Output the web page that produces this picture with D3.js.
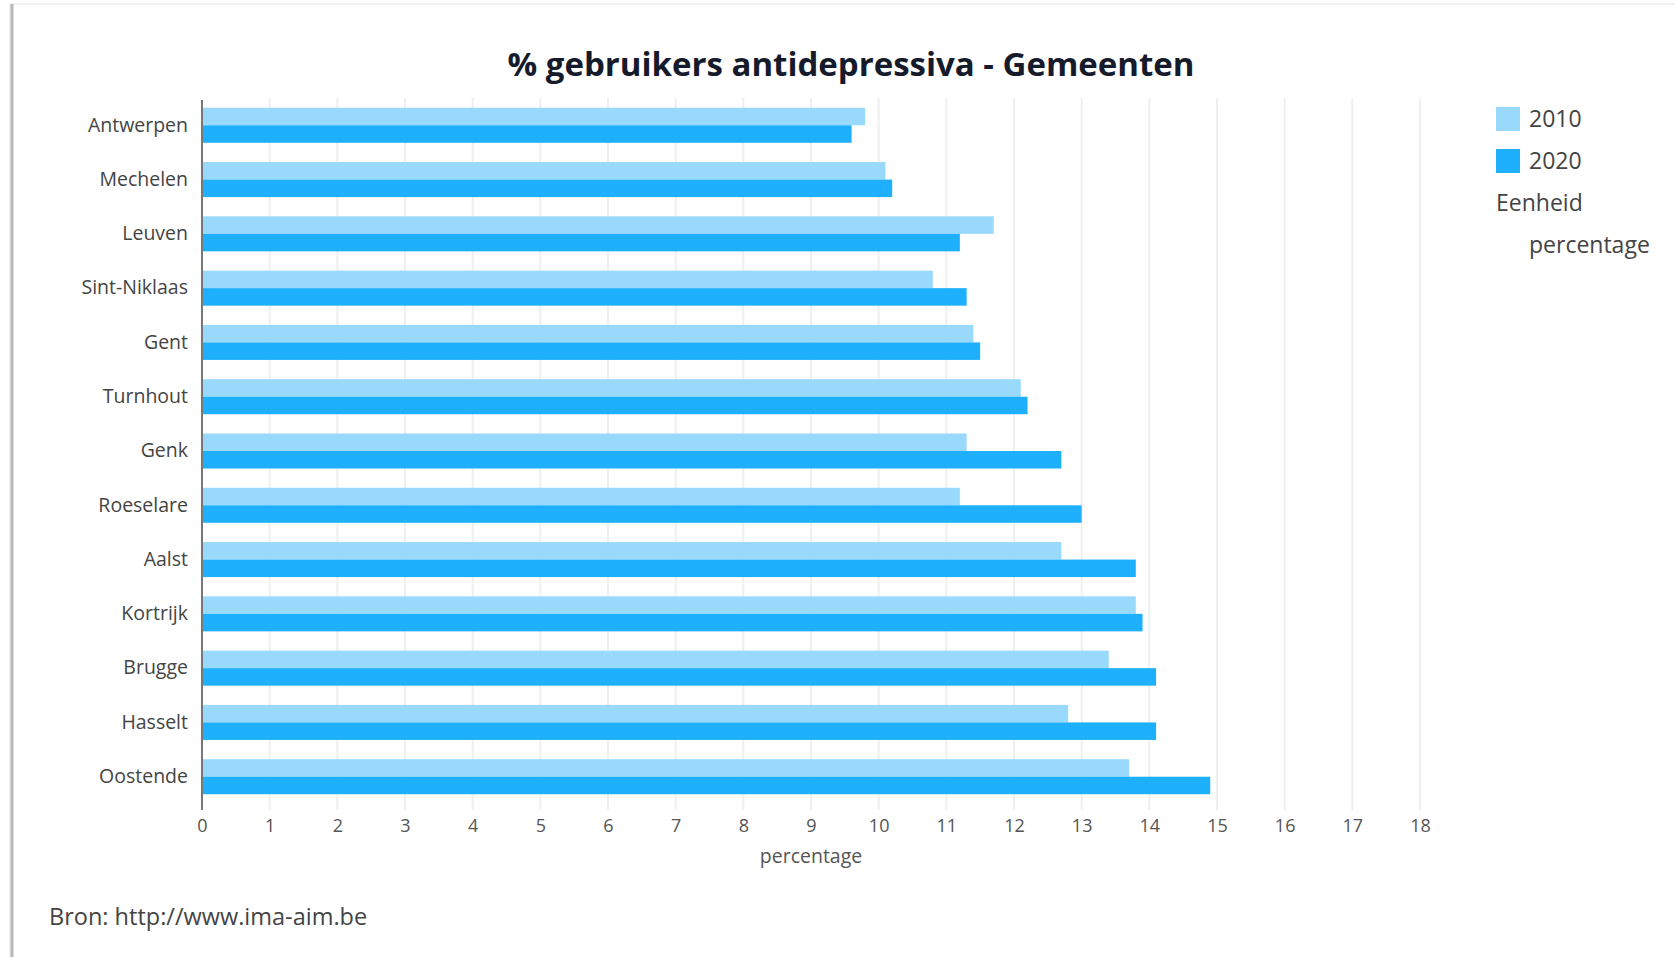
<!DOCTYPE html>
<html>
<head>
<meta charset="utf-8">
<script src="https://cdn.jsdelivr.net/npm/d3@7"></script>
<style>
    html, body { margin: 0; padding: 0; background: #ffffff; }
    svg { display: block; font-family: "Open Sans", sans-serif; }
</style>
</head>
<body>
<svg id="chart" width="1675" height="957"></svg>
<script>
// Data
var gemeenten = ['Antwerpen', 'Mechelen', 'Leuven', 'Sint-Niklaas', 'Gent', 'Turnhout', 'Genk',
                 'Roeselare', 'Aalst', 'Kortrijk', 'Brugge', 'Hasselt', 'Oostende'];
var jaren = ['2010', '2020'];
var waarden2010 = [9.8, 10.1, 11.7, 10.8, 11.4, 12.1, 11.3, 11.2, 12.7, 13.8, 13.4, 12.8, 13.7];
var waarden2020 = [9.6, 10.2, 11.2, 11.3, 11.5, 12.2, 12.7, 13.0, 13.8, 13.9, 14.1, 14.1, 14.9];
var xTicks = d3.range(0, 19);

var kleuren = {'2010': '#99d9fb', '2020': '#1eb0fc'};

var svg = d3.select('#chart'),
    width = +svg.attr('width'),
    height = +svg.attr('height');

// card frame (shadow on left and top like the screenshot)
svg.append('rect')
    .attr('x', 10).attr('y', 4)
    .attr('width', width).attr('height', height)
    .attr('fill', '#fff')
    .attr('stroke', '#e6e6e6');
svg.append('line')
    .attr('x1', 12).attr('x2', 12)
    .attr('y1', 4).attr('y2', height)
    .attr('stroke', '#b8b8b8').attr('stroke-width', 3);

var x = d3.scaleLinear().domain([0, 18]).range([202, 1420]);
var y = d3.scaleBand().domain(gemeenten).range([98, 804]).paddingInner(0.355).paddingOuter(0.18);
var ySub = d3.scaleBand().domain(jaren).range([0, y.bandwidth()]);

// Title
svg.append('text')
    .attr('x', 851).attr('y', 76)
    .attr('text-anchor', 'middle')
    .attr('font-size', 33).attr('font-weight', 'bold')
    .attr('fill', '#161b2b')
    .text('% gebruikers antidepressiva - Gemeenten');

// vertical gridlines
svg.append('g').selectAll('line')
    .data(xTicks.slice(1)).enter()
    .append('line')
    .attr('x1', function(d){ return x(d); })
    .attr('x2', function(d){ return x(d); })
    .attr('y1', 98).attr('y2', 810)
    .attr('stroke', '#efefef').attr('stroke-width', 2);

// bars, one group per gemeente
var rows = svg.append('g').selectAll('g')
    .data(gemeenten).enter()
    .append('g')
    .attr('transform', function(d){ return 'translate(0,' + y(d) + ')'; });

rows.selectAll('rect')
    .data(function(d, i){
        return [{jaar: '2010', v: waarden2010[i]}, {jaar: '2020', v: waarden2020[i]}];
    }).enter()
    .append('rect')
    .attr('x', x(0))
    .attr('y', function(d){ return ySub(d.jaar); })
    .attr('width', function(d){ return x(d.v) - x(0); })
    .attr('height', ySub.bandwidth())
    .attr('fill', function(d){ return kleuren[d.jaar]; });

// x axis
var xAxis = svg.append('g')
    .attr('transform', 'translate(0,806)')
    .call(d3.axisBottom(x).tickValues(xTicks).tickSize(0).tickPadding(13))
    .attr('font-family', null);
xAxis.select('.domain').remove();
xAxis.selectAll('text')
    .attr('font-size', 18).attr('fill', '#555');

svg.append('text')
    .attr('x', x(9)).attr('y', 863)
    .attr('text-anchor', 'middle')
    .attr('font-size', 19.5).attr('fill', '#555')
    .text('percentage');

// y axis
var yAxis = svg.append('g')
    .attr('transform', 'translate(' + x(0) + ',0)')
    .call(d3.axisLeft(y).tickSize(0).tickPadding(14))
    .attr('font-family', null);
yAxis.select('.domain')
    .attr('d', 'M0,100V810')
    .attr('stroke', '#777').attr('stroke-width', 2);
yAxis.selectAll('text')
    .attr('font-size', 19.5).attr('fill', '#444');

// legend
var legend = svg.append('g').attr('transform', 'translate(1496,107)');
var item = legend.selectAll('g')
    .data(jaren).enter()
    .append('g')
    .attr('transform', function(d, i){ return 'translate(0,' + (i * 42) + ')'; });
item.append('rect')
    .attr('width', 24).attr('height', 24)
    .attr('fill', function(d){ return kleuren[d]; });
item.append('text')
    .attr('x', 33).attr('y', 20)
    .attr('font-size', 23).attr('fill', '#444')
    .text(function(d){ return d; });
legend.append('text')
    .attr('x', 0).attr('y', 104)
    .attr('font-size', 23).attr('fill', '#444')
    .text('Eenheid');
legend.append('text')
    .attr('x', 33).attr('y', 146)
    .attr('font-size', 23).attr('fill', '#444')
    .text('percentage');

// source
svg.append('text')
    .attr('x', 49).attr('y', 925)
    .attr('font-size', 23.5).attr('fill', '#444')
    .text('Bron: http://www.ima-aim.be');
</script>
</body>
</html>
